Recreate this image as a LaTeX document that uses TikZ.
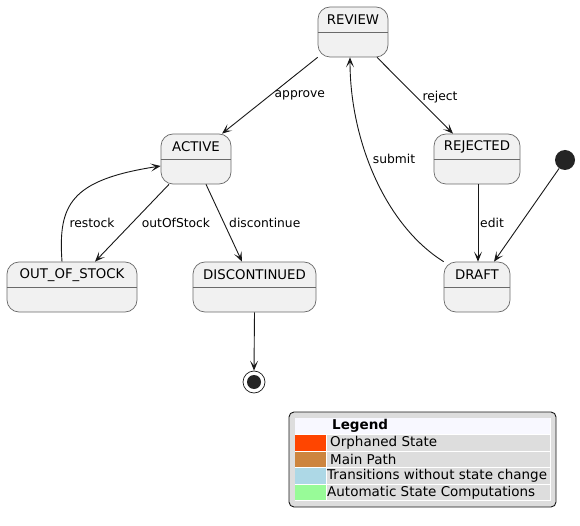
\documentclass[tikz,border=0pt]{standalone}
\usepackage{fontspec}
\setmainfont{DejaVu Sans}
\usetikzlibrary{arrows.meta}
\definecolor{stfill}{HTML}{F1F1F1}
\definecolor{stborder}{HTML}{6A6A6A}
\definecolor{ink}{HTML}{181818}
\definecolor{legbg}{HTML}{DDDDDD}
\definecolor{leghead}{HTML}{F8F8FF}
\definecolor{orphan}{HTML}{FF4500}
\definecolor{mainp}{HTML}{CD853F}
\definecolor{transc}{HTML}{ADD8E6}
\definecolor{autoc}{HTML}{98FB98}
\tikzset{
  statebox/.style={draw=stborder, line width=0.7pt, fill=stfill, rounded corners=12pt, minimum height=50pt, inner sep=0pt},
  sname/.style={font=\fontsize{13.3}{15}\selectfont, text=black, inner sep=0pt},
  divline/.style={draw=stborder, line width=0.7pt},
  trans/.style={draw=ink, line width=0.9pt, -{Stealth[length=10pt, width=8pt, inset=5pt]}},
  tlabel/.style={font=\fontsize{12.3}{14}\selectfont, text=black, inner sep=0pt},
  legtext/.style={font=\fontsize{13.5}{15}\selectfont, text=black, anchor=west, inner sep=0pt},
  cell/.style={fill=legbg, draw=white, line width=1pt}
}
\newcommand{\mkstate}[5]{%
  \node[statebox, minimum width=#3pt] (#1) at (#4) {};
  \node[sname] (#1-name) at ([yshift=-13pt]#1.north) {#5};
  \draw[divline] ([yshift=-26pt]#1.north west) -- ([yshift=-26pt]#1.north east);
}
\begin{document}
\begin{tikzpicture}[x=1pt,y=-1pt]
\useasboundingbox[fill=white] (0,0) rectangle (580,526);

\mkstate{review}{}{70}{353,32}{REVIEW}
\mkstate{rejected}{}{86}{477,159}{REJECTED}
\mkstate{draft}{}{66}{477,287}{DRAFT}
\mkstate{active}{}{70}{196,159}{ACTIVE}
\mkstate{oos}{}{130}{72,287}{OUT\_OF\_STOCK}
\mkstate{disc}{}{123}{254.5,287}{DISCONTINUED}

\node[circle, fill=ink!95, minimum size=20pt, inner sep=0pt] (init) at (565,160) {};
\node[circle, draw=ink, line width=0.7pt, fill=white, minimum size=22pt, inner sep=0pt] (final) at (254,382) {};
\node[circle, fill=ink!95, minimum size=14pt, inner sep=0pt] (finaldot) at (final.center) {};

% transitions
\draw[trans] (review.south west) -- ([xshift=26pt]active.north)
  node[tlabel, pos=0.5, xshift=30pt] (lapprove) {approve};
\draw[trans] ([xshift=24pt]review.south) -- ([xshift=-24pt]rejected.north);
\node[tlabel] (lreject) at (440,97) {reject};
\draw[trans] ([xshift=1pt]rejected.south) -- ([xshift=1pt]draft.north);
\node[tlabel, anchor=west] (ledit) at (480,223) {edit};
\draw[trans] (init) -- ([xshift=17pt]draft.north);
\draw[trans] (draft.north west) .. controls (385,225) and (350,140) .. ([xshift=-3pt]review.south);
\node[tlabel] (lsubmit) at (394,159) {submit};

\draw[trans] ([xshift=-27pt]active.south) -- ([xshift=23pt]oos.north);
\node[tlabel] (loos) at (176,223) {outOfStock};
\draw[trans] ([xshift=10pt]active.south) -- ([xshift=-12.5pt]disc.north);
\node[tlabel, anchor=west] (ldisc) at (229,223) {discontinue};
\draw[trans] ([xshift=-10pt]oos.north) .. controls (58,205) and (70,180) .. ([yshift=-7pt]active.west);
\node[tlabel] (lrestock) at (92,223) {restock};
\draw[trans] (disc.south) -- (final.north);

% legend
\draw[draw=ink, line width=0.9pt, fill=legbg, rounded corners=5pt] (289,412) rectangle (556,507);
\fill[leghead] (295,418) rectangle (550,434);
\fill[orphan] (295,434.5) rectangle (326,450.5);
\fill[legbg] (327,434.5) rectangle (550,450.5);
\fill[mainp] (295,451.5) rectangle (326,467);
\fill[legbg] (327,451.5) rectangle (550,467);
\fill[transc] (295,468) rectangle (326,484);
\fill[legbg] (327,468) rectangle (550,484);
\fill[autoc] (295,485) rectangle (326,500.5);
\fill[legbg] (327,485) rectangle (550,500.5);
\draw[white, line width=1pt] (295,434) -- (550,434) (295,451) -- (550,451) (295,467.5) -- (550,467.5) (295,484.5) -- (550,484.5) (326.5,434) -- (326.5,500.5) (295,500.5) -- (550,500.5) (550,418) -- (550,500.5);
\node[legtext, font=\fontsize{13.5}{15}\selectfont\bfseries] (lg0) at (332,426) {Legend};
\node[legtext] (lg1) at (330,442.5) {Orphaned State};
\node[legtext] (lg2) at (330,459.5) {Main Path};
\node[legtext] (lg3) at (327,476) {Transitions without state change};
\node[legtext] (lg4) at (327,492.5) {Automatic State Computations};
\end{tikzpicture}
\end{document}
